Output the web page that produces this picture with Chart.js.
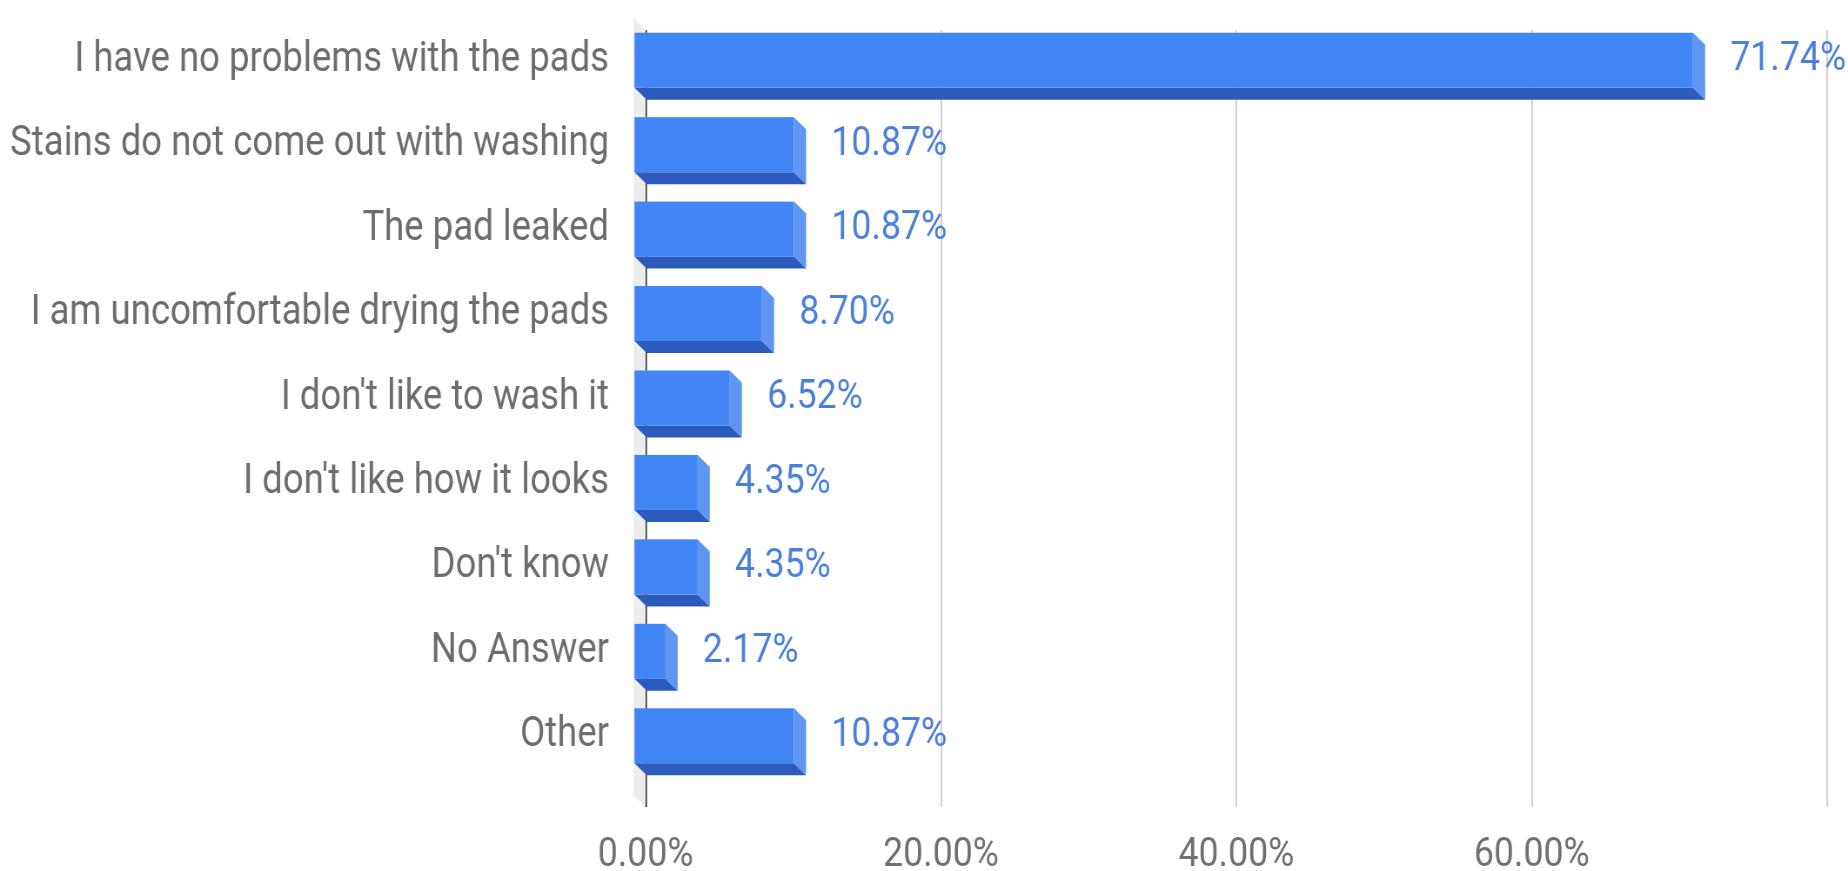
<!DOCTYPE html>
<html>
<head>
<meta charset="utf-8">
<script src="https://cdn.jsdelivr.net/npm/chart.js@4.4.0/dist/chart.umd.min.js"></script>
<style>
  html, body { margin: 0; padding: 0; background: #fff; overflow: hidden; }
  #wrap { width: 2124px; height: 871px; transform: scaleX(0.87006); transform-origin: 0 0; }
  #chart { width: 2124px; height: 871px; display: block; }
</style>
</head>
<body>
<div id="wrap"><canvas id="chart" width="2124" height="871"></canvas></div>
<script>
const categories = [
    'I have no problems with the pads',
    'Stains do not come out with washing',
    'The pad leaked',
    'I am uncomfortable drying the pads',
    "I don't like to wash it",
    "I don't like how it looks",
    "Don't know",
    'No Answer',
    'Other'
];
const percentages = [71.74, 10.87, 10.87, 8.70, 6.52, 4.35, 4.35, 2.17, 10.87];
const xTicks = [0, 20, 40, 60, 80];

// 3d depth of the bars (canvas is squeezed horizontally by css)
const DX = 14, DY = 12;

const bar3d = {
    id: 'bar3d',
    beforeDatasetsDraw(chart) {
        // grey side wall left of the zero line
        const ctx = chart.ctx, a = chart.chartArea;
        const x0 = chart.scales.x.getPixelForValue(0);
        ctx.save();
        ctx.fillStyle = '#ededed';
        ctx.beginPath();
        ctx.moveTo(x0 - DX, a.top - DY);
        ctx.lineTo(x0, a.top);
        ctx.lineTo(x0, a.bottom + 17);
        ctx.lineTo(x0 - DX, a.bottom + 17 - DY);
        ctx.closePath();
        ctx.fill();
        ctx.restore();
    },
    afterDatasetsDraw(chart) {
        const ctx = chart.ctx;
        const meta = chart.getDatasetMeta(0);
        ctx.save();
        meta.data.forEach((bar, i) => {
            const p = bar.getProps(['x', 'y', 'base', 'height'], true);
            const t = p.y - p.height / 2, b = p.y + p.height / 2;
            // bottom face
            ctx.fillStyle = '#2c5bbd';
            ctx.beginPath();
            ctx.moveTo(p.base - DX, b - DY);
            ctx.lineTo(p.x - DX, b - DY);
            ctx.lineTo(p.x, b);
            ctx.lineTo(p.base, b);
            ctx.closePath();
            ctx.fill();
            // side face
            ctx.fillStyle = '#5d96f3';
            ctx.beginPath();
            ctx.moveTo(p.x - DX, t - DY);
            ctx.lineTo(p.x, t);
            ctx.lineTo(p.x, b);
            ctx.lineTo(p.x - DX, b - DY);
            ctx.closePath();
            ctx.fill();
            // front face
            ctx.fillStyle = '#4285f4';
            ctx.fillRect(p.base - DX, t - DY, p.x - p.base, p.height);
            // value label
            ctx.fillStyle = '#4a7fdc';
            ctx.font = '41px Roboto';
            ctx.textAlign = 'left';
            ctx.textBaseline = 'middle';
            ctx.fillText(percentages[i].toFixed(2) + '%', p.x + 29, p.y - DY);
        });
        ctx.restore();
    }
};

new Chart(document.getElementById('chart'), {
    type: 'bar',
    data: {
        labels: categories,
        datasets: [{
            data: percentages,
            backgroundColor: 'rgba(0,0,0,0)',
            barThickness: 55
        }]
    },
    options: {
        indexAxis: 'y',
        responsive: false,
        animation: false,
        layout: { padding: { top: 30, right: 24, left: 0, bottom: 0 } },
        plugins: {
            legend: { display: false },
            tooltip: { enabled: false }
        },
        scales: {
            x: {
                min: 0,
                max: 80,
                afterBuildTicks: s => { s.ticks = xTicks.map(v => ({ value: v })); },
                afterFit: s => { s.height = 81; },
                border: { display: false },
                grid: {
                    color: c => c.tick && c.tick.value === 0 ? '#222' : '#cfcfcf',
                    lineWidth: c => c.tick && c.tick.value === 0 ? 2.5 : 2,
                    tickColor: c => c.tick && c.tick.value === 0 ? '#222' : '#cfcfcf',
                    tickLength: 17
                },
                ticks: {
                    padding: 24,
                    color: '#707070',
                    font: { family: 'Roboto', size: 41 },
                    maxRotation: 0,
                    callback: v => v === 80 ? '' : v.toFixed(2) + '%'
                }
            },
            y: {
                afterFit: s => { s.width = 742; },
                border: { display: false },
                grid: { display: false, drawTicks: true, tickLength: 42 },
                ticks: {
                    padding: 0,
                    labelOffset: -DY,
                    color: '#6d6d6d',
                    font: { family: 'Roboto', size: 42 }
                }
            }
        }
    },
    plugins: [bar3d]
});
</script>
</body>
</html>
